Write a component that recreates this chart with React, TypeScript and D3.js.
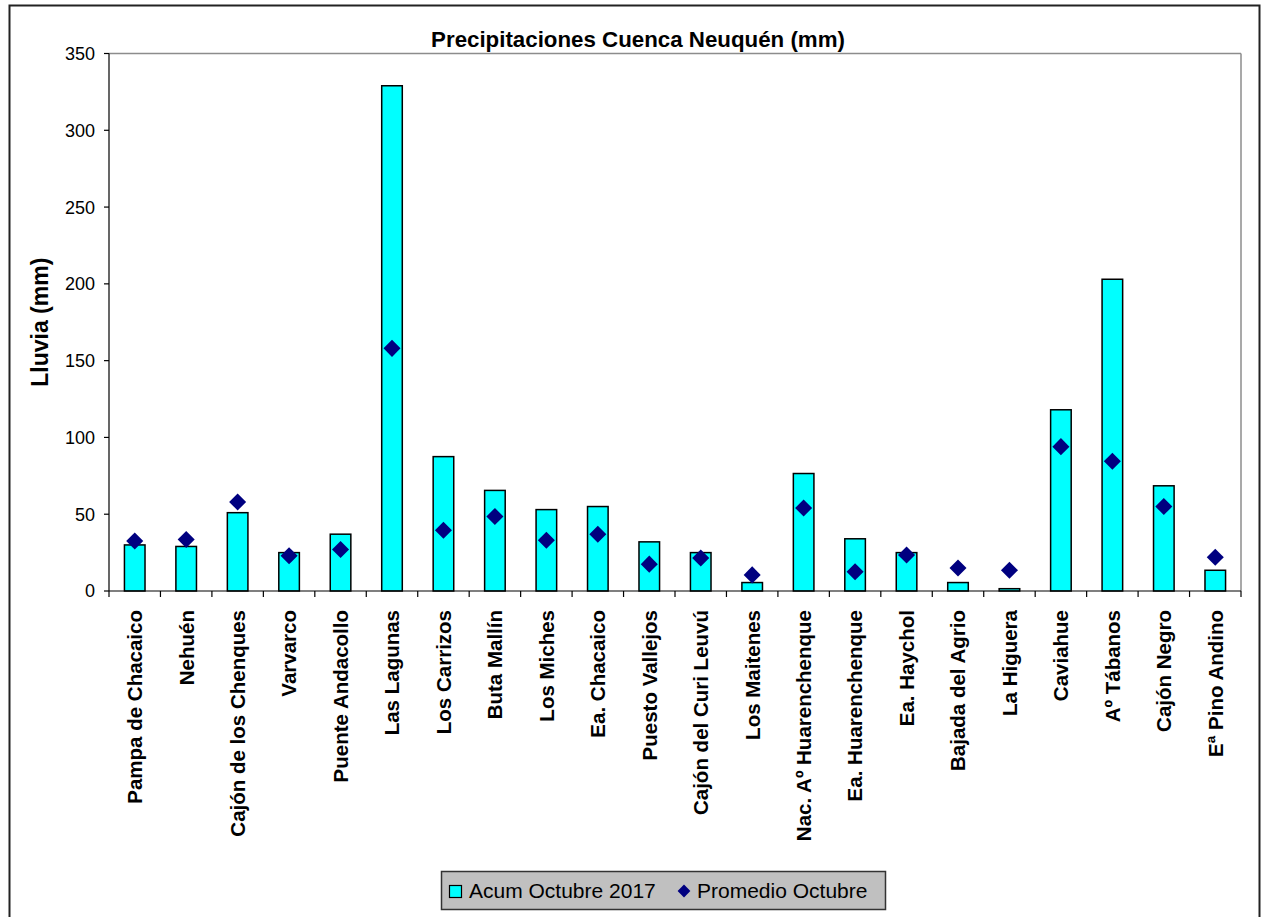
import React from "react";
import * as d3 from "d3";

const categories = [
  "Pampa de Chacaico", "Nehuén", "Cajón de los Chenques", "Varvarco", "Puente Andacollo",
  "Las Lagunas", "Los Carrizos", "Buta Mallín", "Los Miches", "Ea. Chacaico",
  "Puesto Vallejos", "Cajón del Curi Leuvú", "Los Maitenes", "Nac. Aº Huarenchenque",
  "Ea. Huarenchenque", "Ea. Haychol", "Bajada del Agrio", "La Higuera", "Caviahue",
  "Aº Tábanos", "Cajón Negro", "Eª Pino Andino",
];
const acum = [30, 29, 51, 25, 37, 329, 87.5, 65.5, 53, 55, 32, 25, 5.5, 76.5, 34, 25, 5.5, 1.5, 118, 203, 68.5, 13.5];
const promedio = [32.5, 33.5, 58, 23, 27, 158, 39.5, 48.5, 33, 37, 17.5, 21.5, 10.5, 54, 12.5, 23.5, 15, 13.5, 94, 84.5, 55, 22];
const yTicks = [0, 50, 100, 150, 200, 250, 300, 350];
const title = "Precipitaciones Cuenca Neuquén (mm)";
const yLabel = "Lluvia (mm)";
const seriesNames = ["Acum Octubre 2017", "Promedio Octubre"];

const W = 1265, H = 917;
const plot = { left: 109, top: 53.5, right: 1241, bottom: 591 };
const FONT = "'Liberation Sans', Arial, sans-serif";

export default function App() {
  const x = d3.scaleBand<string>().domain(categories).range([plot.left, plot.right]).paddingInner(0.6).paddingOuter(0.3);
  const band = d3.scaleBand<string>().domain(categories).range([plot.left, plot.right]);
  const y = d3.scaleLinear().domain([0, 350]).range([plot.bottom, plot.top]);
  const diamond = d3.symbol().type(d3.symbolDiamond2).size(185)();
  const boundaries = d3.range(categories.length + 1).map((i) => plot.left + i * band.step());

  return (
    <svg width={W} height={H} style={{ position: "absolute", left: 0, top: 0, fontFamily: FONT }}>
      <rect x={0} y={0} width={W} height={H} fill="#fff" />
      <rect x={9.5} y={5.5} width={1250} height={940} fill="#fff" stroke="#222" strokeWidth={2} />
      <text x={638} y={47} textAnchor="middle" fontSize={22.3} fontWeight="bold">{title}</text>
      {/* plot frame */}
      <line x1={plot.left} x2={plot.right} y1={plot.top} y2={plot.top} stroke="#8c8c8c" strokeWidth={1.5} />
      <line x1={plot.right} x2={plot.right} y1={plot.top} y2={plot.bottom} stroke="#8c8c8c" strokeWidth={1.5} />
      {/* y axis */}
      <line x1={plot.left} x2={plot.left} y1={plot.top} y2={plot.bottom} stroke="#000" strokeWidth={1.2} />
      {yTicks.map((t) => (
        <g key={t}>
          <line x1={plot.left - 5} x2={plot.left} y1={y(t)} y2={y(t)} stroke="#000" strokeWidth={1.2} />
          <text x={95} y={y(t)} dy="0.36em" textAnchor="end" fontSize={18}>{t}</text>
        </g>
      ))}
      <text transform={`translate(48,${(plot.top + plot.bottom) / 2}) rotate(-90)`} textAnchor="middle" fontSize={23} fontWeight="bold">{yLabel}</text>
      {/* bars */}
      {categories.map((c, i) => (
        <rect key={c} x={x(c)} y={y(acum[i])} width={x.bandwidth()} height={y(0) - y(acum[i])} fill="#00FFFF" stroke="#000" strokeWidth={1.5} />
      ))}
      {/* x axis */}
      <line x1={plot.left} x2={plot.right} y1={plot.bottom} y2={plot.bottom} stroke="#000" strokeWidth={1.2} />
      {boundaries.map((b, i) => (
        <line key={i} x1={b} x2={b} y1={plot.bottom} y2={plot.bottom + 6} stroke="#000" strokeWidth={1.2} />
      ))}
      {categories.map((c) => (
        <text key={c} transform={`translate(${(band(c) as number) + band.step() / 2},${plot.bottom + 19}) rotate(-90)`} dy="0.36em" textAnchor="end" fontSize={20.5} fontWeight="bold">{c}</text>
      ))}
      {/* diamonds */}
      {categories.map((c, i) => (
        <path key={c} d={diamond as string} transform={`translate(${(band(c) as number) + band.step() / 2},${y(promedio[i])})`} fill="#000080" />
      ))}
      {/* legend */}
      <rect x={441.5} y={871.5} width={444} height={38} fill="#C0C0C0" stroke="#333" strokeWidth={1.5} />
      <rect x={449.5} y={885.5} width={12} height={12} fill="#00FFFF" stroke="#000" strokeWidth={1.2} />
      <text x={469} y={898} fontSize={21}>{seriesNames[0]}</text>
      <path d={diamond as string} transform="translate(684,891) scale(0.75)" fill="#000080" />
      <text x={697} y={898} fontSize={21}>{seriesNames[1]}</text>
    </svg>
  );
}
